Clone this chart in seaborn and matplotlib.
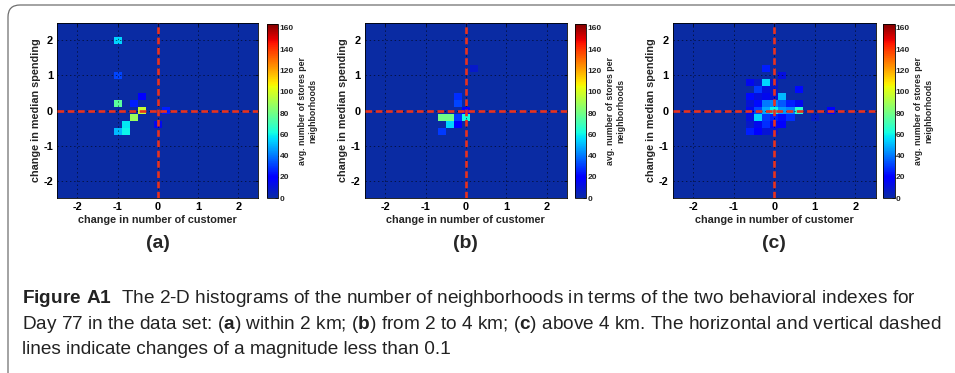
import numpy as np
import pandas as pd
import matplotlib
matplotlib.use("Agg")
import matplotlib.pyplot as plt
import seaborn as sns
from matplotlib.colors import ListedColormap
from matplotlib.patches import FancyBboxPatch

# ---------------- data ----------------
bin_centers = [-2.4, -2.2, -2.0, -1.8, -1.6, -1.4, -1.2, -1.0, -0.8, -0.6, -0.4, -0.2,
               0.0, 0.2, 0.4, 0.6, 0.8, 1.0, 1.2, 1.4, 1.6, 1.8, 2.0, 2.2, 2.4]
axis_ticks = [-2, -1, 0, 1, 2]
cbar_ticks = [0, 20, 40, 60, 80, 100, 120, 140, 160]
cbar_max = 164

# panel (a): within 2 km
a_x = [-1.0, -1.0, -1.0, -0.6, -0.4, -0.4, -0.6, -0.8, -0.8, -1.0, 0.0, 0.2]
a_y = [2.0, 1.0, 0.2, 0.2, 0.4, 0.0, -0.2, -0.4, -0.6, -0.6, -0.4, 0.0]
a_v = [55, 32, 75, 25, 20, 97, 88, 58, 60, 50, 15, 25]

# panel (b): from 2 to 4 km
b_x = [0.2, -0.2, -0.2, 0.0, -0.6, -0.4, -0.2, 0.0, -0.4, -0.2, -0.6]
b_y = [1.2, 0.4, 0.2, 0.0, -0.2, -0.2, -0.2, -0.2, -0.4, -0.4, -0.6]
b_v = [8, 28, 32, 18, 80, 80, 30, 62, 55, 20, 30]

# panel (c): above 4 km
c_x = [-0.2,
       0.2,
       -0.6, -0.4, -0.2, 0.0,
       -0.4, -0.2, 0.0, 0.6,
       -0.6, -0.4, -0.2, 0.0, 0.2,
       -0.6, -0.4, -0.2, 0.0, 0.2, 0.4, 0.6,
       -0.6, -0.4, -0.2, 0.0, 0.2, 0.4, 0.6, 1.4,
       -0.6, -0.4, -0.2, 0.0, 0.2, 0.4, 1.0,
       -0.6, -0.4, -0.2, 0.0, 0.2,
       -0.6, -0.4, -0.2, 0.0]
c_y = [1.2,
       1.0,
       0.8, 0.8, 0.8, 0.8,
       0.6, 0.6, 0.6, 0.6,
       0.4, 0.4, 0.4, 0.4, 0.4,
       0.2, 0.2, 0.2, 0.2, 0.2, 0.2, 0.2,
       0.0, 0.0, 0.0, 0.0, 0.0, 0.0, 0.0, 0.0,
       -0.2, -0.2, -0.2, -0.2, -0.2, -0.2, -0.2,
       -0.4, -0.4, -0.4, -0.4, -0.4,
       -0.6, -0.6, -0.6, -0.6]
c_v = [25,
       12,
       15, 8, 55, 8,
       30, 12, 8, 22,
       22, 12, 15, 10, 50,
       10, 22, 40, 42, 35, 25, 15,
       15, 32, 48, 60, 45, 42, 65, 18,
       12, 55, 30, 25, 22, 28, 6,
       8, 15, 28, 15, 20,
       25, 20, 10, 8]

panel_labels = ["(a)", "(b)", "(c)"]
xlabel_text = "change in number of customer"
ylabel_text = "change in median spending"
cbar_label_text = "avg. number of stores per\nneighborhoods"

caption_lines = [
    r"$\mathbf{Figure\ A1}$  The 2-D histograms of the number of neighborhoods in terms of the two behavioral indexes for",
    r"Day 77 in the data set: ($\mathbf{a}$) within 2 km; ($\mathbf{b}$) from 2 to 4 km; ($\mathbf{c}$) above 4 km. The horizontal and vertical dashed",
    r"lines indicate changes of a magnitude less than 0.1",
]

# ---------------- style ----------------
sns.set_style("white")
plt.rcParams["font.family"] = ["Liberation Sans", "DejaVu Sans"]
plt.rcParams["lines.scale_dashes"] = False

cap_family = "Liberation Sans"
plt.rcParams["mathtext.fontset"] = "custom"
plt.rcParams["mathtext.rm"] = cap_family
plt.rcParams["mathtext.bf"] = cap_family + ":bold"

jet = plt.get_cmap("jet")
cols = jet(np.linspace(0, 1, 256))
bg = np.array([0.04, 0.17, 0.64, 1.0])
nb = 28
top = cols[nb].copy()
for k in range(nb):
    f = k / nb
    cols[k] = (1 - f) * bg + f * top
cmap = ListedColormap(cols)

RED = "#e8321e"
W, H = 955, 373


def rect(l, t, r, b):
    return [l / W, 1 - b / H, (r - l) / W, (b - t) / H]


def make_grid(xs, ys, vs):
    M = np.zeros((len(bin_centers), len(bin_centers)))
    for x, y, v in zip(xs, ys, vs):
        i = bin_centers.index(round(y, 1))
        j = bin_centers.index(round(x, 1))
        M[i, j] = v
    df = pd.DataFrame(M, index=bin_centers, columns=bin_centers)
    return df.iloc[::-1]


fig = plt.figure(figsize=(W / 100, H / 100), dpi=100)
fig.patch.set_facecolor("white")

ax_rects = [rect(57.3, 22.7, 258.3, 198.3), rect(365, 22.7, 566.7, 198.3), rect(672.7, 22.7, 875.7, 198.3)]
cax_rects = [rect(267, 23.5, 278, 198.3), rect(575, 23.5, 586, 198.3), rect(883, 23.5, 894.5, 198.3)]
datasets = [(a_x, a_y, a_v), (b_x, b_y, b_v), (c_x, c_y, c_v)]

step = bin_centers[1] - bin_centers[0]
lo = bin_centers[0] - step / 2
hi = bin_centers[-1] + step / 2


def xpos(v):
    return (v - lo) / step


def ypos(v):
    return (hi - v) / step


for k in range(3):
    ax = fig.add_axes(ax_rects[k])
    cax = fig.add_axes(cax_rects[k])
    df = make_grid(*datasets[k])
    sns.heatmap(df, ax=ax, cbar_ax=cax, cmap=cmap, vmin=0, vmax=cbar_max,
                cbar_kws={"ticks": cbar_ticks}, xticklabels=False, yticklabels=False)
    ax.set_xticks([xpos(t) for t in axis_ticks])
    ax.set_xticklabels([str(t) for t in axis_ticks], rotation=0, fontweight="bold")
    ax.set_yticks([ypos(t) for t in axis_ticks])
    ax.set_yticklabels([str(t) for t in axis_ticks], rotation=0, fontweight="bold")
    for s in ax.spines.values():
        s.set_visible(True)
        s.set_linewidth(0.6)
        s.set_color("k")
    ax.tick_params(direction="in", length=2.5, width=0.5, top=True, right=True,
                   labelsize=7.9, pad=3, colors="k")
    ax.set_axisbelow(False)
    ax.grid(True, ls=(0, (1, 2)), lw=0.5, color="k", alpha=0.8)
    ax.axvline(xpos(0), color=RED, lw=1.9, dashes=(4.8, 2.6), zorder=3)
    ax.axhline(ypos(0), color=RED, lw=1.9, dashes=(4.8, 2.6), zorder=3)
    ax.set_xlabel(xlabel_text, fontsize=7.8, fontweight="bold", labelpad=2)
    ax.set_ylabel(ylabel_text, fontsize=7.8, fontweight="bold", labelpad=2)
    ax.text(0.5, -0.26, panel_labels[k], transform=ax.transAxes, ha="center", va="center",
            fontsize=14, fontweight="bold")
    cb = ax.collections[0].colorbar
    cb.outline.set_linewidth(0.6)
    cb.outline.set_edgecolor("k")
    cax.tick_params(labelsize=6, direction="in", length=2, width=0.5, pad=1)
    for lbl in cax.get_yticklabels():
        lbl.set_fontweight("bold")
    cb.set_label(cbar_label_text, fontsize=6.3, fontweight="bold", labelpad=3)

# frame with rounded corner
frame = FancyBboxPatch((8 / 100, -1.0), 12.0, (H - 5) / 100 + 1.0,
                       boxstyle="round,pad=0,rounding_size=0.12",
                       transform=fig.dpi_scale_trans, fill=False,
                       edgecolor="#6e6e6e", lw=0.9, clip_on=False)
fig.patches.append(frame)

# caption
renderer = fig.canvas.get_renderer()
base = 12.0
line_x = [22 / W, 22 / W, 22 / W]
line_base = [303, 329, 354]
texts = []
for i, s in enumerate(caption_lines):
    t = fig.text(line_x[i], 1 - line_base[i] / H, s, fontsize=base, family=cap_family,
                 fontweight="normal", va="baseline", ha="left", color="#222222")
    texts.append(t)
w2 = texts[1].get_window_extent(renderer).width
target = 918.0
size = base * target / w2
for t in texts:
    t.set_fontsize(size)

fig.savefig("out.png", dpi=100, facecolor="white")
